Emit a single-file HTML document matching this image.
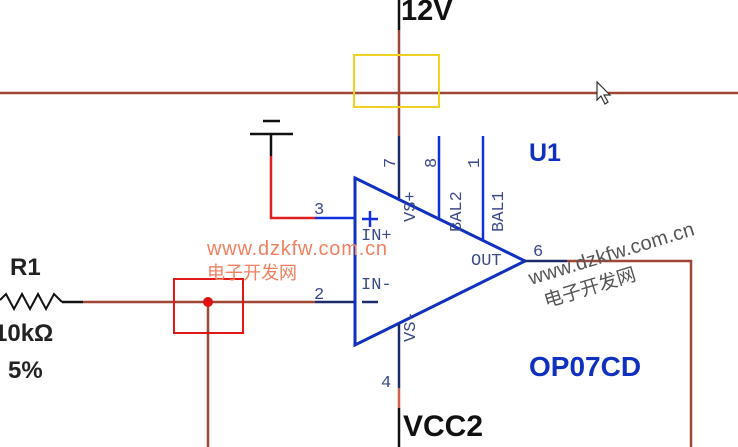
<!DOCTYPE html>
<html><head><meta charset="utf-8"><style>
html,body{margin:0;padding:0;background:#fff;width:738px;height:447px;overflow:hidden}
svg{display:block}
.b{font-family:"Liberation Sans",sans-serif;font-weight:bold}
.m{font-family:"Liberation Mono",monospace;fill:#3a4a8a;font-size:17px}
.wm{font-family:"Liberation Sans","Noto Sans CJK SC",sans-serif}
</style></head><body>
<svg width="738" height="447" viewBox="0 0 738 447" xmlns="http://www.w3.org/2000/svg">
<g fill="none" stroke-width="2.5">
<line x1="0" y1="93" x2="738" y2="93" stroke="#a04636"/>
<line x1="399" y1="0" x2="399" y2="30" stroke="#111"/>
<line x1="399" y1="30" x2="399" y2="136" stroke="#a04636"/>
<line x1="399" y1="136" x2="399" y2="200" stroke="#1a2a6a"/>
<line x1="439" y1="136" x2="439" y2="219" stroke="#1030e0"/>
<line x1="483" y1="136" x2="483" y2="241" stroke="#1030e0"/>
<line x1="263" y1="121" x2="280" y2="121" stroke="#111"/>
<line x1="250" y1="134" x2="293" y2="134" stroke="#111"/>
<line x1="271" y1="134" x2="271" y2="156" stroke="#111"/>
<polyline points="271,156 271,218 315,218" stroke="#e02020"/>
<line x1="315" y1="218" x2="355" y2="218" stroke="#1030e0"/>
<line x1="83" y1="302" x2="315" y2="302" stroke="#a04636"/>
<line x1="315" y1="302" x2="355" y2="302" stroke="#1a2a6a"/>
<line x1="208" y1="302" x2="208" y2="447" stroke="#a04636"/>
<line x1="62" y1="302" x2="83" y2="302" stroke="#111"/>
<polyline points="0,300 6,294 14,309 22,294 30,309 38,294 46,309 54,294 62,302" stroke="#111" stroke-width="2"/>
<polygon points="355,178 525,261 355,345" stroke="#1030c0" stroke-width="3"/>
<line x1="399" y1="324" x2="399" y2="388" stroke="#1a2a6a"/>
<line x1="399" y1="388" x2="399" y2="408" stroke="#d06050"/>
<line x1="399" y1="408" x2="399" y2="447" stroke="#111"/>
<line x1="525" y1="261" x2="567" y2="261" stroke="#1a2a6a"/>
<polyline points="567,261 691,261 691,447" stroke="#a04636"/>
<rect x="354" y="55" width="85" height="52" stroke="#f0d020" stroke-width="2"/>
<rect x="174" y="279" width="69" height="54" stroke="#e01818" stroke-width="2"/>
<line x1="362" y1="219" x2="378" y2="219" stroke="#1030e0" stroke-width="2.5"/>
<line x1="370" y1="211" x2="370" y2="227" stroke="#1030e0" stroke-width="2.5"/>
<line x1="362" y1="302" x2="378" y2="302" stroke="#1a2a6a" stroke-width="2.5"/>
</g>
<circle cx="208" cy="302" r="5" fill="#e01010"/>
<path d="M597,82 L597,100 L601,96 L605,104 L608,102 L604,95 L610,95 Z" fill="#fff" stroke="#333" stroke-width="1.2"/>
<text class="b" x="401" y="20" font-size="29" fill="#111">12V</text>
<text class="b" x="403" y="436" font-size="30" fill="#111">VCC2</text>
<text class="b" x="529" y="161" font-size="25" fill="#1030c0">U1</text>
<text class="b" x="529" y="376" font-size="28" fill="#1030c0">OP07CD</text>
<text class="b" x="10" y="275" font-size="24" fill="#222">R1</text>
<text class="b" x="-6" y="341" font-size="24" fill="#222">10kΩ</text>
<text class="b" x="8" y="378" font-size="24" fill="#222">5%</text>
<text class="m" x="314" y="214">3</text>
<text class="m" x="314" y="299">2</text>
<text class="m" x="533" y="256">6</text>
<text class="m" x="381" y="387">4</text>
<text class="m" x="361" y="240">IN+</text>
<text class="m" x="361" y="289">IN-</text>
<text class="m" x="471" y="265">OUT</text>
<text class="m" transform="translate(395,168) rotate(-90)">7</text>
<text class="m" transform="translate(436,168) rotate(-90)">8</text>
<text class="m" transform="translate(479,168) rotate(-90)">1</text>
<text class="m" transform="translate(415,222) rotate(-90)">VS+</text>
<text class="m" transform="translate(461,232) rotate(-90)">BAL2</text>
<text class="m" transform="translate(503,232) rotate(-90)">BAL1</text>
<text class="m" transform="translate(415,342) rotate(-90)">VS-</text>
<text class="wm" x="207" y="255" font-size="20" fill="#f08060" textLength="180">www.dzkfw.com.cn</text>
<text class="wm" x="207" y="279" font-size="18" fill="#f08060">电子开发网</text>
<g transform="translate(531,285) rotate(-17)">
<text class="wm" x="0" y="0" font-size="20" fill="#555" textLength="172">www.dzkfw.com.cn</text>
<text class="wm" x="8" y="26" font-size="19" fill="#555">电子开发网</text>
</g>
</svg>
</body></html>
